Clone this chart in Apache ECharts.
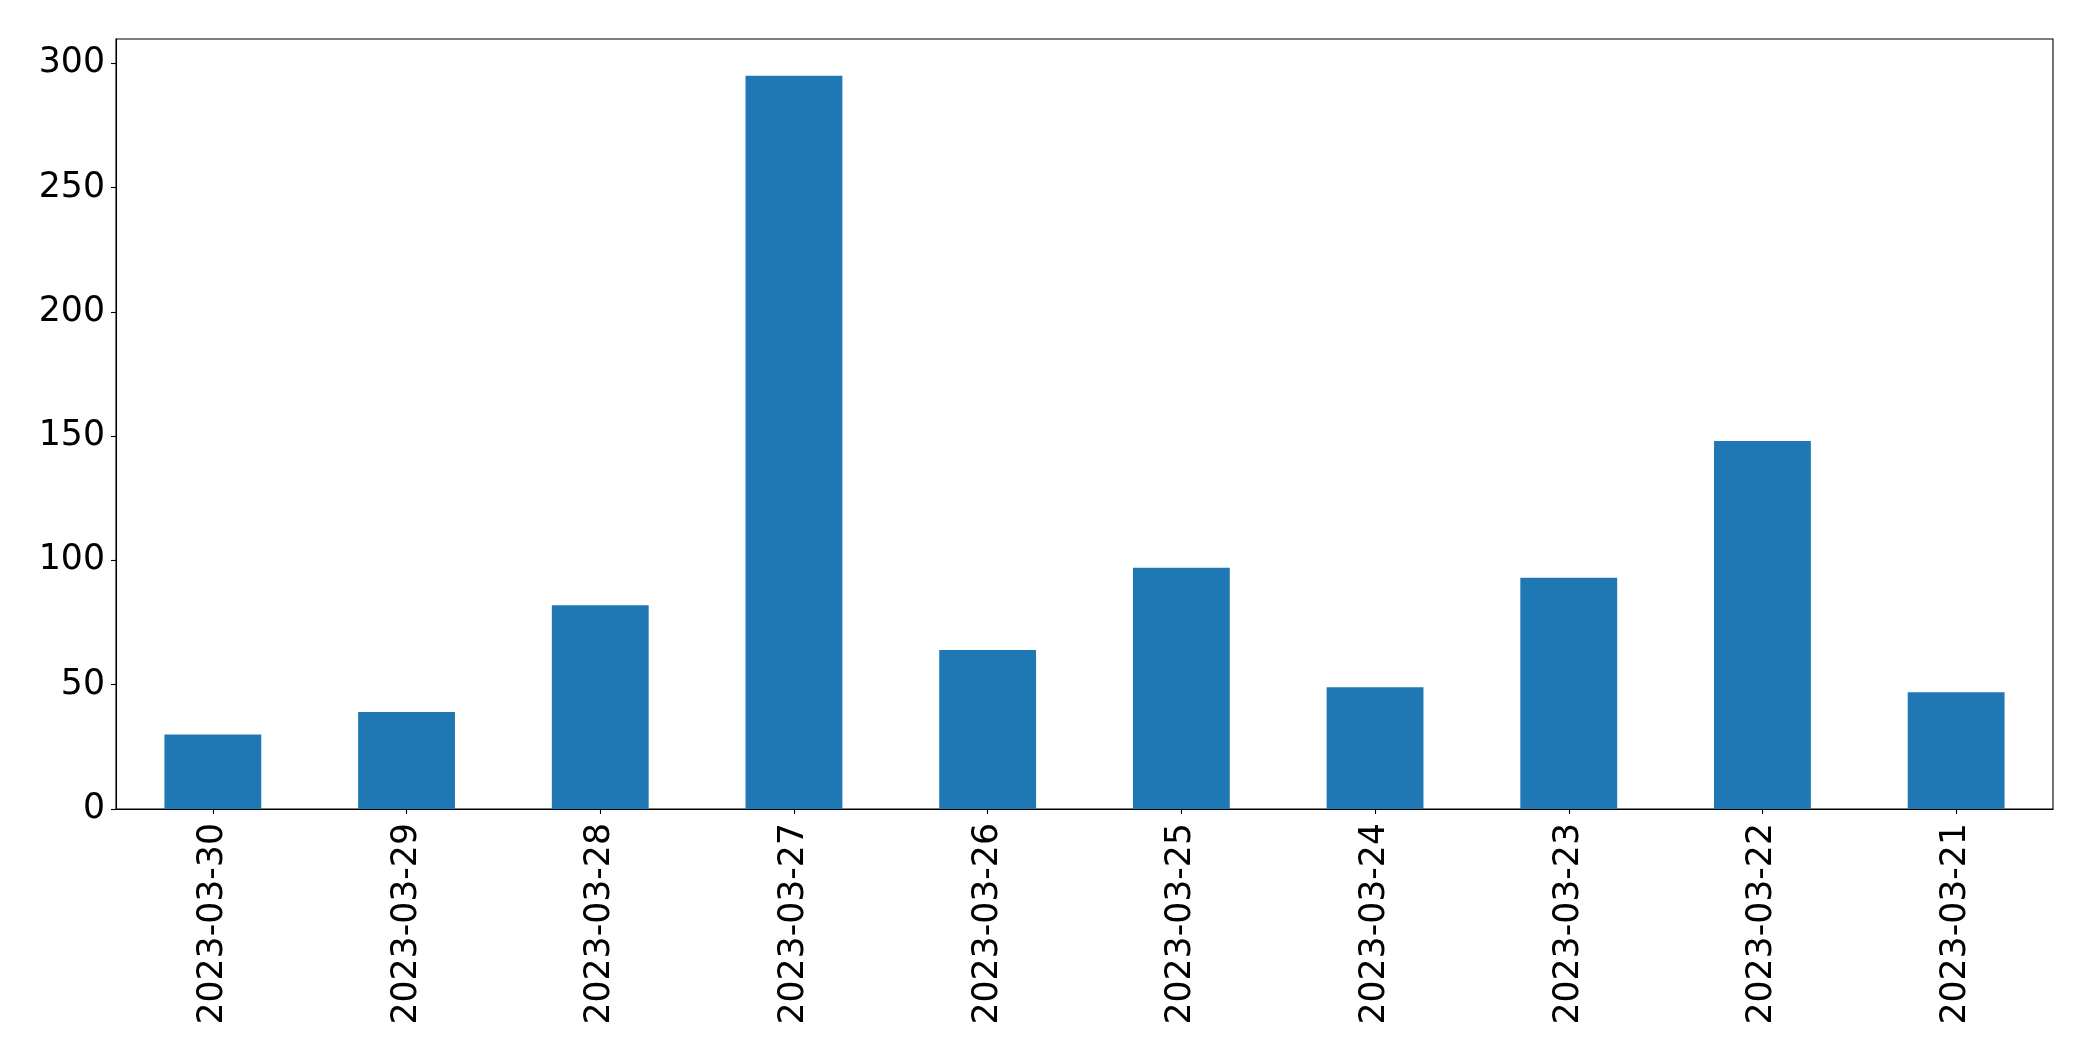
<!DOCTYPE html>
<html>
<head>
<meta charset="utf-8">
<script src="https://cdn.jsdelivr.net/npm/echarts@6/dist/echarts.min.js"></script>
<style>
  html, body { margin: 0; padding: 0; background: #fff; }
  #chart { width: 2093px; height: 1061px; }
</style>
</head>
<body>
<div id="chart"></div>
<script>
const categories = ['2023-03-30', '2023-03-29', '2023-03-28', '2023-03-27', '2023-03-26',
                    '2023-03-25', '2023-03-24', '2023-03-23', '2023-03-22', '2023-03-21'];
const values = [30, 39, 82, 295, 64, 97, 49, 93, 148, 47];
const yTicks = [0, 50, 100, 150, 200, 250, 300];
const yMax = 309.75;

const chart = echarts.init(document.getElementById('chart'), null, { renderer: 'canvas' });
const font = 'DejaVu Sans';
chart.setOption({
  animation: false,
  backgroundColor: '#ffffff',
  grid: {
    left: 116, right: 40, top: 39, bottom: 252,
    show: true, borderColor: '#000', borderWidth: 1.1, backgroundColor: 'transparent'
  },
  xAxis: {
    type: 'category',
    data: categories,
    boundaryGap: true,
    axisLine: { show: true, lineStyle: { color: '#000', width: 1.1 } },
    axisTick: { show: true, alignWithLabel: true, length: 5, lineStyle: { color: '#000', width: 1.1 } },
    axisLabel: {
      rotate: 90, interval: 0, margin: 14,
      color: '#000', fontFamily: font, fontSize: 34.7
    },
    splitLine: { show: false }
  },
  yAxis: {
    type: 'value',
    min: 0, max: yMax, interval: 50,
    axisLine: { show: true, lineStyle: { color: '#000', width: 1.1 } },
    axisTick: { show: true, length: 5, customValues: yTicks, lineStyle: { color: '#000', width: 1.1 } },
    axisLabel: {
      margin: 11, color: '#000', fontFamily: font, fontSize: 34.7,
      padding: [5, 0, 0, 0],
      customValues: yTicks
    },
    splitLine: { show: false }
  },
  series: [{
    type: 'bar',
    data: values,
    barWidth: '50%',
    itemStyle: { color: '#1f77b4' }
  }]
});
</script>
</body>
</html>
